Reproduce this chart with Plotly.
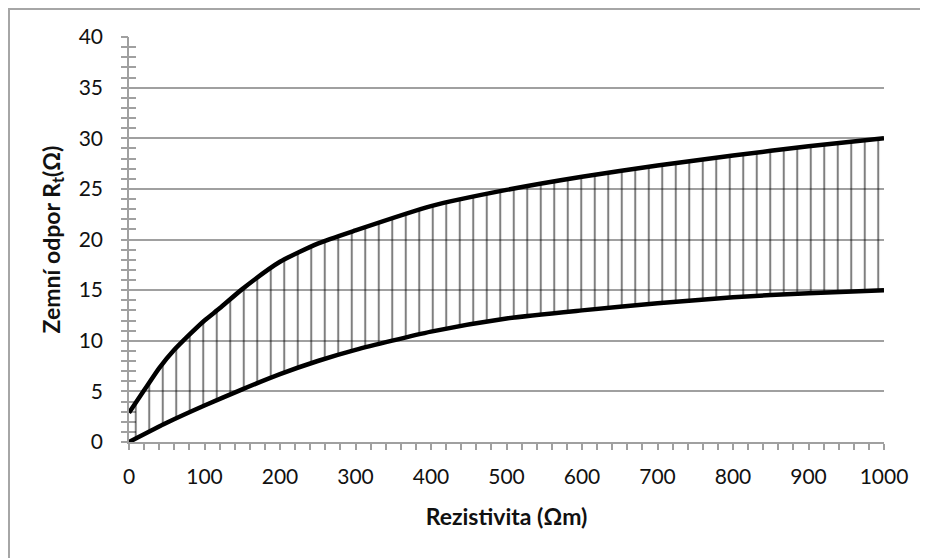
import plotly.graph_objects as go

# Data
upper_x = [0, 20, 40, 60, 80, 100, 120, 150, 200, 250, 300, 400, 500, 600, 700, 800, 900, 1000]
upper_y = [2.9, 5.1, 7.3, 9.1, 10.6, 12.0, 13.2, 15.1, 17.8, 19.6, 20.9, 23.3, 24.9, 26.2, 27.3, 28.3, 29.2, 30.0]
lower_x = [0, 50, 100, 150, 200, 250, 300, 400, 500, 600, 700, 800, 900, 1000]
lower_y = [0.0, 1.9, 3.6, 5.2, 6.7, 8.0, 9.1, 10.9, 12.2, 13.0, 13.7, 14.3, 14.7, 15.0]

x_title = "Rezistivita (Ωm)"
y_title = "Zemní odpor R<sub>t</sub>(Ω)"

FONT = "Lato"
GRID = "#a0a0a0"
TXT = "#111111"

fig = go.Figure()
# invisible trace on the base y axis (which carries grid, labels and inside ticks)
fig.add_trace(go.Scatter(x=[0], y=[0], yaxis="y", mode="markers",
                         marker=dict(opacity=0), showlegend=False, hoverinfo="skip"))
# data drawn on the overlaying axis so curves sit above the ticks
fig.add_trace(go.Scatter(
    x=lower_x, y=lower_y, mode="lines", yaxis="y2",
    line=dict(color="black", width=4.5, shape="spline", smoothing=0.6),
    showlegend=False, hoverinfo="skip",
))
fig.add_trace(go.Scatter(
    x=upper_x, y=upper_y, mode="lines", yaxis="y2",
    line=dict(color="black", width=4.5, shape="spline", smoothing=0.6),
    fill="tonexty", fillcolor="rgba(0,0,0,0)",
    fillpattern=dict(shape="|", size=13.5, solidity=0.15, fgcolor="black", bgcolor="rgba(0,0,0,0)"),
    showlegend=False, hoverinfo="skip",
))

# Layout geometry (page body adds an 8px offset)
W, H = 928, 558
OFF = 8
L, T = 129 - OFF, 37 - OFF
R = W - (884 - OFF)
B = H - (442 - OFF)
pw, ph = W - L - R, H - T - B

def px_to_paper(px, py):
    return (px - L) / pw, (H - B - py) / ph

x0, y0 = px_to_paper(1, 1)
x1, y1 = px_to_paper(W + 20, H + 20)

fig.update_layout(
    width=W, height=H,
    margin=dict(l=L, r=R, t=T, b=B, pad=0),
    paper_bgcolor="white", plot_bgcolor="white",
    font=dict(family=FONT, size=21, color=TXT),
    xaxis=dict(
        range=[0, 1000], dtick=100, tick0=0,
        showgrid=False, zeroline=False, layer="below traces",
        showline=True, linecolor=GRID, linewidth=1.5,
        ticks="outside", ticklen=6, tickcolor=GRID, tickwidth=1.5,
        minor=dict(dtick=20, ticks="outside", ticklen=6, tickcolor=GRID, tickwidth=1.5, showgrid=False),
        ticklabelstandoff=9,
        title=dict(text=x_title, font=dict(family=FONT, size=23, color=TXT, weight="bold"), standoff=22),
    ),
    yaxis=dict(
        range=[0, 40], dtick=5, tick0=0,
        showgrid=True, gridcolor=GRID, gridwidth=1.5,
        zeroline=False, layer="below traces",
        showline=True, linecolor=GRID, linewidth=1.5,
        ticks="inside", ticklen=7, tickcolor=GRID, tickwidth=1.5,
        minor=dict(dtick=1, ticks="inside", ticklen=7, tickcolor=GRID, tickwidth=1.5, showgrid=False),
        ticklabelstandoff=20,
        title=dict(text=y_title, font=dict(family=FONT, size=23, color=TXT, weight="bold"), standoff=12),
    ),
    yaxis2=dict(
        range=[0, 40], overlaying="y", side="left",
        showgrid=False, zeroline=False, showticklabels=False, layer="below traces",
        dtick=5, tick0=0,
        ticks="outside", ticklen=7, tickcolor=GRID, tickwidth=1.5,
        minor=dict(dtick=1, ticks="outside", ticklen=7, tickcolor=GRID, tickwidth=1.5, showgrid=False),
    ),
    shapes=[dict(
        type="rect", xref="paper", yref="paper",
        x0=x0, y0=y1, x1=x1, y1=y0,
        line=dict(color="#a6a6a6", width=2), fillcolor="rgba(0,0,0,0)", layer="below",
    )],
)

fig.write_html("out.html")
